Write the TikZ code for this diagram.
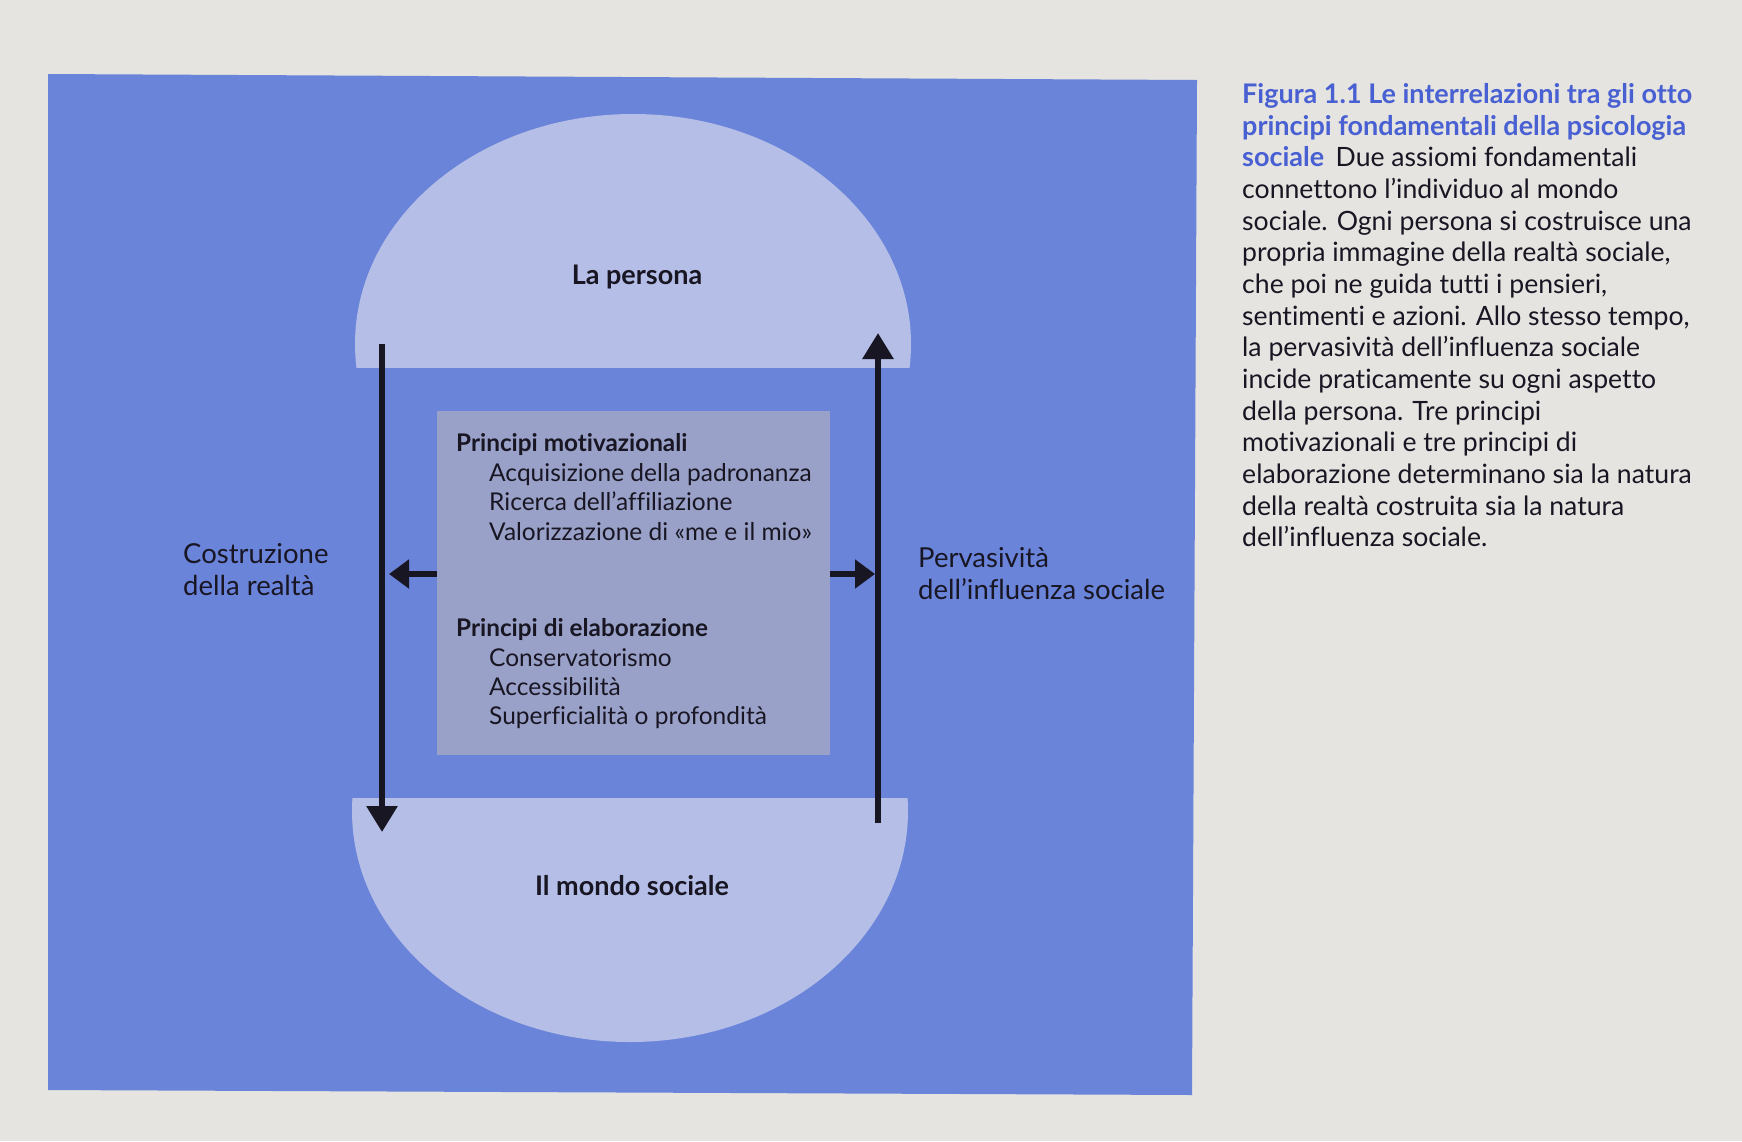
\documentclass[tikz,border=0pt]{standalone}
\usepackage{fontspec}
\setmainfont{Lato}[Ligatures=NoCommon]
\usetikzlibrary{arrows.meta}
\definecolor{paper}{RGB}{229,228,224}
\definecolor{bluebg}{RGB}{106,132,218}
\definecolor{lightell}{RGB}{180,190,230}
\definecolor{greybox}{RGB}{154,161,200}
\definecolor{captblue}{RGB}{72,96,210}
\definecolor{ink}{RGB}{25,22,35}
\begin{document}
\begin{tikzpicture}[x=1pt,y=-1pt,
  arr/.style={line width=6pt, draw=ink, -{Triangle[width=30pt,length=26pt,fill=ink]}},
  harr/.style={line width=6pt, draw=ink, -{Triangle[width=28pt,length=20pt,fill=ink]}},
  ttl/.style={font=\fontsize{27}{32}\selectfont\bfseries, text=ink, inner sep=0pt},
  lbl/.style={font=\fontsize{27.5}{32}\selectfont, text=ink, inner sep=0pt, anchor=base west},
  head/.style={font=\fontsize{24.3}{28}\selectfont\bfseries, text=ink, inner sep=0pt, anchor=base west},
  item/.style={font=\fontsize{24.5}{28}\selectfont, text=ink, inner sep=0pt, anchor=base west},
  captxt/.style={font=\fontsize{26.6}{31}\selectfont, text=ink, inner sep=0pt, anchor=base west},
  captitle/.style={font=\fontsize{27}{31}\selectfont\bfseries, text=captblue, inner sep=0pt, anchor=base west}]
\fill[paper] (0,0) rectangle (1742,1141);
\useasboundingbox (0,0) rectangle (1742,1141);
\fill[bluebg] (48,74) -- (1197,80) -- (1192,1095) -- (48,1090) -- cycle;
\begin{scope}
  \clip (0,0) rectangle (1742,367);
  \fill[lightell] (633,344) ellipse [x radius=278pt, y radius=230pt];
\end{scope}
\begin{scope}
  \clip (0,798) rectangle (1742,1141);
  \fill[lightell] (630,811) ellipse [x radius=278pt, y radius=231pt];
\end{scope}
\node[fill=greybox, minimum width=393pt, minimum height=344pt, inner sep=0pt] (box) at (633.5,583) {};
\node[ttl] (persona) at (637,277) {La persona};
\node[ttl] (mondo) at (632,886) {Il mondo sociale};

\node[head] (m0) at (456,451) {Principi motivazionali};
\node[item] (m1) at (489,481) {Acquisizione della padronanza};
\node[item] (m2) at (489,510) {Ricerca dell’affiliazione};
\node[item] (m3) at (489,540) {Valorizzazione di «me e il mio»};
\node[head] (e0) at (456,636) {Principi di elaborazione};
\node[item] (e1) at (489,666) {Conservatorismo};
\node[item] (e2) at (489,695) {Accessibilità};
\node[item] (e3) at (489,724) {Superficialità o profondità};

\node[lbl] (cos1) at (183,563) {Costruzione};
\node[lbl] (cos2) at (183,595) {della realtà};
\node[lbl] (per1) at (918,567) {Pervasività};
\node[lbl] (per2) at (918,599) {dell’influenza sociale};

\coordinate (ltop) at (382,344);
\coordinate (lbot) at (382,832);
\coordinate (rbot) at (878,823);
\coordinate (rtop) at (878,333);
\coordinate (lmid) at (389,574);
\coordinate (rmid) at (875,574);
\draw[arr] (ltop) -- (lbot);
\draw[arr] (rbot) -- (rtop);
\draw[harr] (box.west |- lmid) -- (lmid);
\draw[harr] (box.east |- rmid) -- (rmid);

\node[captitle] (c1) at (1242,103) {Figura 1.1 Le interrelazioni tra gli otto};
\node[captitle] (c2) at (1242,135) {principi fondamentali della psicologia};
\node[captitle] (c3) at (1242,166) {sociale};
\node[captxt] (c3b) at ([xshift=11pt]c3.base east) {Due assiomi fondamentali};
\node[captxt] (c4) at (1242,198) {connettono l’individuo al mondo};
\node[captxt] (c5) at (1242,230) {sociale. Ogni persona si costruisce una};
\node[captxt] (c6) at (1242,261) {propria immagine della realtà sociale,};
\node[captxt] (c7) at (1242,293) {che poi ne guida tutti i pensieri,};
\node[captxt] (c8) at (1242,325) {sentimenti e azioni. Allo stesso tempo,};
\node[captxt] (c9) at (1242,356) {la pervasività dell’influenza sociale};
\node[captxt] (c10) at (1242,388) {incide praticamente su ogni aspetto};
\node[captxt] (c11) at (1242,420) {della persona. Tre principi};
\node[captxt] (c12) at (1242,451) {motivazionali e tre principi di};
\node[captxt] (c13) at (1242,483) {elaborazione determinano sia la natura};
\node[captxt] (c14) at (1242,515) {della realtà costruita sia la natura};
\node[captxt] (c15) at (1242,546) {dell’influenza sociale.};
\end{tikzpicture}
\end{document}
